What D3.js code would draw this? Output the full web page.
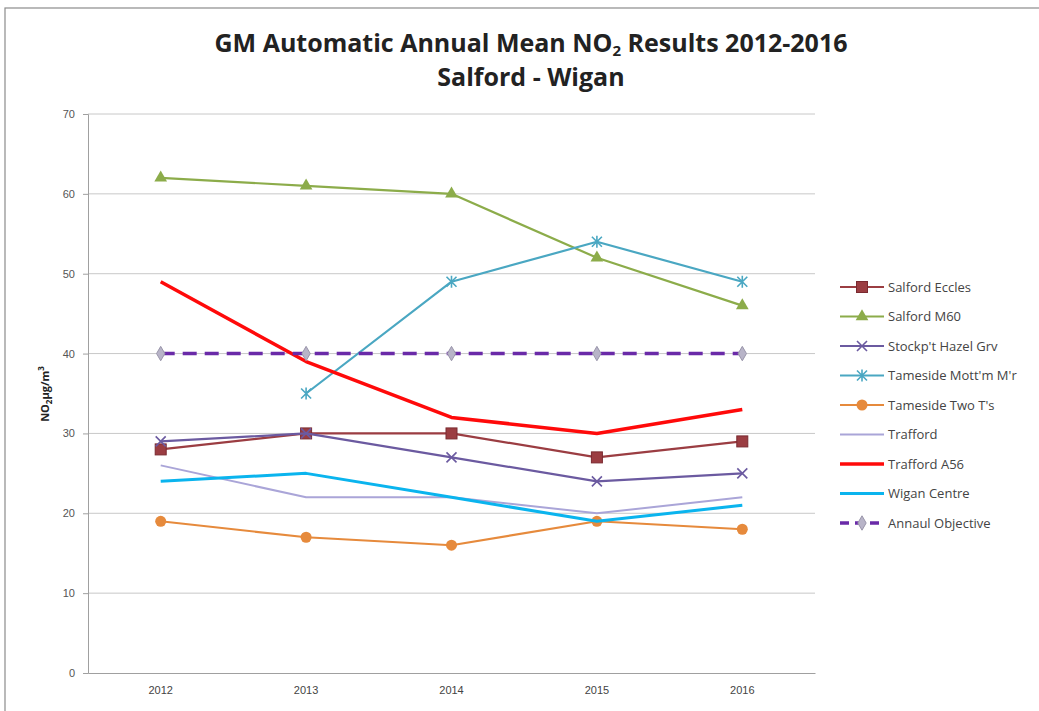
<!DOCTYPE html>
<html>
<head>
<meta charset="utf-8">
<script src="https://cdn.jsdelivr.net/npm/d3@7"></script>
<style>
  body { margin: 0; background: #fff; }
  svg { font-family: "Open Sans", "Liberation Sans", sans-serif; }
</style>
</head>
<body>
<svg id="chart" width="1039" height="711"></svg>
<script>
// Dados
const years = ["2012", "2013", "2014", "2015", "2016"];
const yTicks = [0, 10, 20, 30, 40, 50, 60, 70];

const salfordEccles = [28, 30, 30, 27, 29];
const salfordM60 = [62, 61, 60, 52, 46];
const stockportHazel = [29, 30, 27, 24, 25];
const tamesideMottram = [null, 35, 49, 54, 49];
const tamesideTwoTs = [19, 17, 16, 19, 18];
const trafford = [26, 22, 22, 20, 22];
const traffordA56 = [49, 39, 32, 30, 33];
const wiganCentre = [24, 25, 22, 19, 21];
const annualObjective = [40, 40, 40, 40, 40];

const series = [
  { name: "Salford Eccles", values: salfordEccles, color: "#9b3d42", width: 2.2, marker: "square" },
  { name: "Salford M60", values: salfordM60, color: "#8cac4a", width: 2.2, marker: "triangle" },
  { name: "Stockp't Hazel Grv", values: stockportHazel, color: "#6b5aa0", width: 2.2, marker: "cross" },
  { name: "Tameside Mott'm M'r", values: tamesideMottram, color: "#4aa7c2", width: 2.2, marker: "star" },
  { name: "Tameside Two T's", values: tamesideTwoTs, color: "#e68a3c", width: 2.2, marker: "circle" },
  { name: "Trafford", values: trafford, color: "#aaa5d8", width: 2, marker: "none" },
  { name: "Trafford A56", values: traffordA56, color: "#ff0a0a", width: 3.5, marker: "none" },
  { name: "Wigan Centre", values: wiganCentre, color: "#0ab4ee", width: 3, marker: "none" },
  { name: "Annaul Objective", values: annualObjective, color: "#6a2aa8", width: 3.5, marker: "diamond", dash: "14,8" }
];

const svg = d3.select("#chart");

// moldura externa
svg.append("rect")
  .attr("x", 5).attr("y", 8).attr("width", 1040).attr("height", 720)
  .attr("fill", "none").attr("stroke", "#8c8c8c").attr("stroke-width", 1.2);

// título
svg.append("text")
  .attr("x", 531).attr("y", 52)
  .attr("text-anchor", "middle")
  .attr("font-size", 25).attr("font-weight", "bold").attr("fill", "#222")
  .text("GM Automatic Annual Mean NO")
  .append("tspan").attr("font-size", 15).attr("dy", 4).text("2")
  .append("tspan").attr("font-size", 25).attr("dy", -4).text(" Results 2012-2016");
svg.append("text")
  .attr("x", 531).attr("y", 86)
  .attr("text-anchor", "middle")
  .attr("font-size", 25).attr("font-weight", "bold").attr("fill", "#222")
  .text("Salford - Wigan");

const margin = { left: 88, right: 815, top: 114, bottom: 673 };

const x = d3.scaleBand().domain(years).range([margin.left, margin.right]);
const y = d3.scaleLinear().domain([0, 70]).range([margin.bottom, margin.top]);

// grelha
svg.append("g")
  .selectAll("line")
  .data(yTicks.filter(d => d > 0))
  .join("line")
  .attr("x1", margin.left).attr("x2", margin.right)
  .attr("y1", d => y(d)).attr("y2", d => y(d))
  .attr("stroke", "#c8c8c8").attr("stroke-width", 1);

// eixo y
const yAxis = svg.append("g")
  .attr("transform", `translate(${margin.left},0)`)
  .call(d3.axisLeft(y).tickValues(yTicks).tickSize(5).tickPadding(8));
yAxis.select(".domain").attr("stroke", "#a0a0a0");
yAxis.selectAll(".tick line").attr("stroke", "#a0a0a0");
yAxis.selectAll("text").attr("font-size", 11).attr("fill", "#555");

// eixo x
const xAxis = svg.append("g")
  .attr("transform", `translate(0,${margin.bottom})`)
  .call(d3.axisBottom(x).tickSize(0).tickPadding(13));
xAxis.select(".domain").attr("stroke", "#a0a0a0");
xAxis.selectAll("text").attr("font-size", 11).attr("fill", "#444");

// rótulo do eixo y
svg.append("text")
  .attr("transform", "translate(49,394) rotate(-90)")
  .attr("text-anchor", "middle")
  .attr("font-size", 11).attr("font-weight", "bold").attr("fill", "#222")
  .text("NO")
  .append("tspan").attr("font-size", 8).attr("dy", 3).text("2")
  .append("tspan").attr("font-size", 11).attr("dy", -3).text("μg/m")
  .append("tspan").attr("font-size", 8).attr("dy", -5).text("3");

const cx = (d, i) => x(years[i]) + x.bandwidth() / 2;

function drawMarker(g, type, color, px, py) {
  if (type === "square") {
    g.append("rect").attr("x", px - 5.5).attr("y", py - 5.5).attr("width", 11).attr("height", 11)
      .attr("fill", color).attr("stroke", "#7a2a30").attr("stroke-width", 1);
  } else if (type === "triangle") {
    g.append("path").attr("transform", `translate(${px},${py})`)
      .attr("d", d3.symbol(d3.symbolTriangle, 70)()).attr("fill", color);
  } else if (type === "circle") {
    g.append("circle").attr("cx", px).attr("cy", py).attr("r", 5.5).attr("fill", color);
  } else if (type === "cross") {
    g.append("path").attr("transform", `translate(${px},${py})`)
      .attr("d", "M-5,-5L5,5M-5,5L5,-5").attr("stroke", color).attr("stroke-width", 1.6);
  } else if (type === "star") {
    g.append("path").attr("transform", `translate(${px},${py})`)
      .attr("d", "M-5,-5L5,5M-5,5L5,-5M0,-6L0,6").attr("stroke", color).attr("stroke-width", 1.6);
  } else if (type === "diamond") {
    g.append("path").attr("transform", `translate(${px},${py})`)
      .attr("d", d3.symbol(d3.symbolDiamond, 60)()).attr("fill", "#b8b4c8").attr("stroke", "#9a96aa");
  }
}

const line = d3.line()
  .defined(d => d != null)
  .x(cx)
  .y(d => y(d));

// linhas
series.forEach(s => {
  const g = svg.append("g");
  g.append("path")
    .datum(s.values)
    .attr("fill", "none")
    .attr("stroke", s.color)
    .attr("stroke-width", s.width)
    .attr("stroke-dasharray", s.dash || null)
    .attr("stroke-linejoin", "round")
    .attr("d", line);
  s.values.forEach((v, i) => {
    if (v != null) drawMarker(g, s.marker, s.color, cx(v, i), y(v));
  });
});

// legenda
const legend = svg.append("g");
series.forEach((s, i) => {
  const ly = 287 + i * 29.5;
  legend.append("line")
    .attr("x1", 840).attr("x2", 884).attr("y1", ly).attr("y2", ly)
    .attr("stroke", s.color).attr("stroke-width", s.width)
    .attr("stroke-dasharray", s.dash ? "9,6" : null);
  drawMarker(legend, s.marker, s.color, 862, ly);
  legend.append("text")
    .attr("x", 888).attr("y", ly + 4.5)
    .attr("font-size", 13).attr("fill", "#444")
    .text(s.name);
});
</script>
</body>
</html>
